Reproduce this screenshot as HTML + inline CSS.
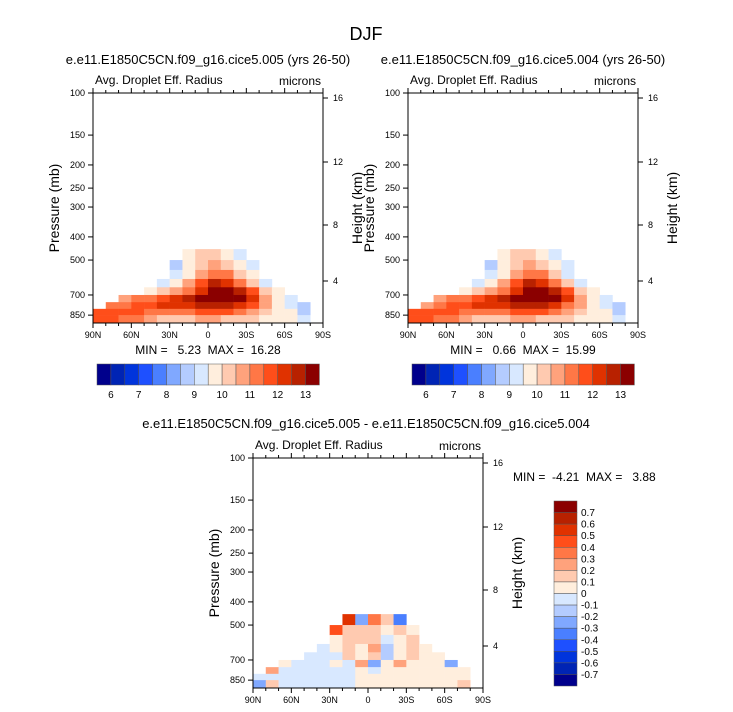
<!DOCTYPE html>
<html><head><meta charset="utf-8">
<style>
body{margin:0;background:#fff;}
svg{display:block;font-family:"Liberation Sans",sans-serif;}
svg text{white-space:pre;}
</style></head>
<body>
<svg id="fig" width="733" height="712" viewBox="0 0 733 712" xmlns="http://www.w3.org/2000/svg">
<text x="366" y="40" font-size="18" text-anchor="middle">DJF</text>
</svg>
<script>
// ---- data ----
const latEdges = [90,80,70,60,50,40,30,20,10,0,-10,-20,-30,-40,-50,-60,-70,-80,-90];
const presEdges = [450,500,550,600,650,700,750,800,850,917];
const N = null;
const case005 = [
 [N,N,N,N,N,N,N,9.8,10.2,10,9.7,9.2,N,N,N,N,N,N],
 [N,N,N,N,N,N,8.8,9.6,10.3,10.6,10.3,9.7,9,N,N,N,N,N],
 [N,N,N,N,N,N,9.2,9.9,10.6,11.3,11.2,10.3,9.5,N,N,N,N,N],
 [N,N,N,N,N,9.3,9.8,10.5,11.5,12.5,12.2,11.2,10.3,9.3,N,N,N,N],
 [N,N,N,N,9.5,10.3,10.8,11.3,12.3,13.2,13.2,12.8,11.8,10.4,9.5,N,N,N],
 [N,N,10.8,11,11.2,11.8,12.2,12.6,13.3,13.5,13.5,13.2,12,10.5,9.5,9,N,N],
 [N,11,11.2,11.5,11.8,12.3,12,12.1,12.6,12.9,12.9,12.4,11.5,10.5,9.8,9.2,8.5,N],
 [11.5,11.5,11.5,11.5,11.2,11,11,11.3,11.8,11.8,11.5,11,10.5,10,9.8,9.5,8.5,N],
 [11.8,11.5,11.2,11,10.5,10.2,10,10.2,10.5,10.5,10.2,10,10,9.8,9.8,9.6,9.2,N]
];
const case004 = [
 [N,N,N,N,N,N,N,9.7,10.1,10,9.6,9.2,N,N,N,N,N,N],
 [N,N,N,N,N,N,8.7,9.6,10.3,10.6,10.4,9.7,9,N,N,N,N,N],
 [N,N,N,N,N,N,9.2,9.9,10.7,11.3,11.3,10.3,9.4,N,N,N,N,N],
 [N,N,N,N,N,9.3,9.8,10.5,11.6,12.5,12.3,11.2,10.3,9.3,N,N,N,N],
 [N,N,N,N,9.5,10.3,10.8,11.3,12.3,13.2,13.3,12.8,11.8,10.4,9.5,N,N,N],
 [N,N,10.8,11,11.2,11.8,12.2,12.6,13.3,13.6,13.4,13.1,12,10.5,9.5,9.2,N,N],
 [N,10.9,11.2,11.5,11.8,12.3,12,12.1,12.6,12.9,12.9,12.4,11.4,10.5,9.8,9.2,8.6,N],
 [11.5,11.5,11.5,11.5,11.2,11,11,11.3,11.8,11.8,11.5,11,10.5,10,9.8,9.5,8.6,N],
 [11.8,11.5,11.2,11,10.5,10.2,10,10.2,10.5,10.5,10.2,10,10,9.8,9.8,9.6,9.2,N]
];
const diffVals = [
 [N,N,N,N,N,N,N,0.5,-0.3,0.3,0.1,-0.4,N,N,N,N,N,N],
 [N,N,N,N,N,N,0.4,0.15,0.1,0.1,0.05,0.1,0.05,N,N,N,N,N],
 [N,N,N,N,N,N,0.05,0.15,0.1,0.15,-0.05,0.05,0.1,N,N,N,N,N],
 [N,N,N,N,N,-0.05,0.05,0.1,0.05,0.2,-0.15,0.05,0.1,0.05,N,N,N,N],
 [N,N,N,N,-0.05,-0.05,-0.05,0.1,0.05,0.15,-0.2,0.05,0.15,0.05,0.05,N,N,N],
 [N,N,0.05,-0.05,-0.05,-0.05,0.05,-0.05,0.2,-0.3,0.05,0.25,0.05,0.05,0.05,-0.3,N,N],
 [N,0.2,-0.05,-0.05,-0.05,-0.05,-0.05,-0.05,0.05,-0.05,0.05,0.05,0.05,0.05,0.05,0.05,0.05,N],
 [-0.05,-0.05,-0.05,-0.05,-0.05,-0.05,-0.05,-0.05,0.05,0.05,0.05,0.05,0.05,0.05,0.05,0.05,0.05,N],
 [-0.3,0.15,-0.05,-0.05,-0.05,-0.05,-0.05,-0.05,0.05,0.05,0.05,0.05,0.05,0.05,0.05,0.05,0.1,N]
];
const absLabels = ["6","7","8","9","10","11","12","13"];
const diffLabels = ["0.7","0.6","0.5","0.4","0.3","0.2","0.1","0","-0.1","-0.2","-0.3","-0.4","-0.5","-0.6","-0.7"];
const presTicks = [100,150,200,250,300,400,500,700,850];
const presTickLabels = ["100","150","200","250","300","400","500","700","850"];
const heightTicks = [16,12,8,4];
const latTicks = [90,60,30,0,-30,-60,-90];
const latTickLabels = ["90N","60N","30N","0","30S","60S","90S"];
const colors = ["#00008c","#0024b4","#0034dc","#1e50ff","#4a7fff","#80a8ff","#b4ccff","#d8e8ff","#ffeedd","#ffcab0","#ffa27c","#ff7746","#ff4e1a","#e03200","#b82100","#8b0000"];

const NS = "http://www.w3.org/2000/svg";
const svg = document.getElementById("fig");
function el(tag, attrs, parent, txt){
  const e = document.createElementNS(NS, tag);
  for (const k in attrs) e.setAttribute(k, attrs[k]);
  if (txt !== undefined) e.textContent = txt;
  (parent||svg).appendChild(e);
  return e;
}
const W = 230, H = 230, DEC = 239;
const hY = {16:5, 12:69, 8:132, 4:188};

function panel(px, py, vals, colorIdx, title, titleName, prefix){
  const g = el("g", {});
  
  
  const xS = lat => px + (90 - lat) / 180 * W;
  const yS = p => py + DEC * Math.log10(p / 100);
  if (title){
    const t = el("text", {x: px + W/2, y: py - 29, "font-size": 13, "text-anchor": "middle"}, g, title);
    
    
  }
  const lt = el("text", {x: px + 2, y: py - 9, "font-size": 12}, g, "Avg. Droplet Eff. Radius");
  
  
  const rt = el("text", {x: px + W - 2, y: py - 8, "font-size": 12, "text-anchor": "end"}, g, "microns");
  
  
  for (let r = 0; r < vals.length; r++){
    for (let c = 0; c < vals[r].length; c++){
      const v = vals[r][c];
      if (v === null) continue;
      const x0 = xS(latEdges[c]), x1 = xS(latEdges[c+1]);
      const y0 = yS(presEdges[r]), y1 = Math.min(yS(presEdges[r+1]), py + H);
      const rc = el("rect", {x: x0, y: y0, width: x1 - x0 + 0.3, height: y1 - y0 + 0.3, fill: colors[colorIdx(v)]}, g);
      
      
    }
  }
  const box = el("rect", {x: px, y: py, width: W, height: H, fill: "none", stroke: "#000", "stroke-width": 1}, g);
  
  
  for (let lat = 90; lat >= -90; lat -= 10){
    const major = lat % 30 === 0;
    const len = major ? 5 : 3;
    const x = xS(lat);
    el("line", {x1: x, x2: x, y1: py + H, y2: py + H + len, stroke: "#000"}, g);
    el("line", {x1: x, x2: x, y1: py, y2: py - len, stroke: "#000"}, g);
  }
  latTicks.forEach((lat, i) => {
    const t = el("text", {x: xS(lat), y: py + H + 15, "font-size": 9, "text-anchor": "middle"}, g, latTickLabels[i]);
    
    
  });
  presTicks.forEach((p, i) => {
    const y = yS(p);
    el("line", {x1: px - 5, x2: px, y1: y, y2: y, stroke: "#000"}, g);
    const t = el("text", {x: px - 8, y: y + 3, "font-size": 9, "text-anchor": "end"}, g, presTickLabels[i]);
    
    
  });
  heightTicks.forEach(h => {
    const y = py + hY[h];
    el("line", {x1: px + W, x2: px + W + 5, y1: y, y2: y, stroke: "#000"}, g);
    const t = el("text", {x: px + W + 10, y: y + 3, "font-size": 9}, g, String(h));
    
    
  });
  const yl = el("text", {x: 0, y: 0, "font-size": 14, "text-anchor": "middle", transform: `translate(${px-34},${py+H/2}) rotate(-90)`}, g, "Pressure (mb)");
  
  
  const hl = el("text", {x: 0, y: 0, "font-size": 14, "text-anchor": "middle", transform: `translate(${px+W+39},${py+H/2}) rotate(-90)`}, g, "Height (km)");
  
  
}
const absIdx = v => Math.max(0, Math.min(15, Math.floor((v - 5.5) / 0.5)));
const diffIdx = v => Math.max(0, Math.min(15, Math.floor((v + 0.8) / 0.1 + 1e-9)));

panel(93, 93, case005, absIdx, "e.e11.E1850C5CN.f09_g16.cice5.005 (yrs 26-50)", "panel1-title", "case005");
panel(408, 93, case004, absIdx, "e.e11.E1850C5CN.f09_g16.cice5.004 (yrs 26-50)", "panel2-title", "case004");
panel(253, 458, diffVals, diffIdx, null, null, "difference");

const dt = el("text", {x: 366, y: 428, "font-size": 13, "text-anchor": "middle"}, svg, "e.e11.E1850C5CN.f09_g16.cice5.005 - e.e11.E1850C5CN.f09_g16.cice5.004");



function minmax(x, y, txt, anchor){
  const t = el("text", {x: x, y: y, "font-size": 12, "text-anchor": anchor}, svg, txt);
  
  
}
minmax(208, 354, "MIN =   5.23  MAX =  16.28", "middle");
minmax(523, 354, "MIN =   0.66  MAX =  15.99", "middle");
minmax(513, 481, "MIN =  -4.21  MAX =   3.88", "start");

function hbar(x0, prefix){
  const y0 = 364, bw = 13.9, bh = 21;
  colors.forEach((c, i) => {
    const r = el("rect", {x: x0 + i*bw, y: y0, width: bw, height: bh, fill: c, stroke: "#555", "stroke-width": 0.5});
    
    
  });
  absLabels.forEach((l, i) => {
    const t = el("text", {x: x0 + (1 + 2*i)*bw, y: y0 + bh + 13, "font-size": 10, "text-anchor": "middle"}, svg, l);
    
    
  });
}
hbar(97, "case005");
hbar(412, "case004");
(function(){
  const x0 = 554, y0 = 501, bw = 23, bh = 185/16;
  for (let i = 0; i < 16; i++){
    const r = el("rect", {x: x0, y: y0 + i*bh, width: bw, height: bh, fill: colors[15 - i], stroke: "#555", "stroke-width": 0.5});
    
    
  }
  diffLabels.forEach((l, i) => {
    const t = el("text", {x: x0 + bw + 4, y: y0 + (i+1)*bh + 3.5, "font-size": 10}, svg, l);
    
    
  });
})();
</script>
</body></html>
